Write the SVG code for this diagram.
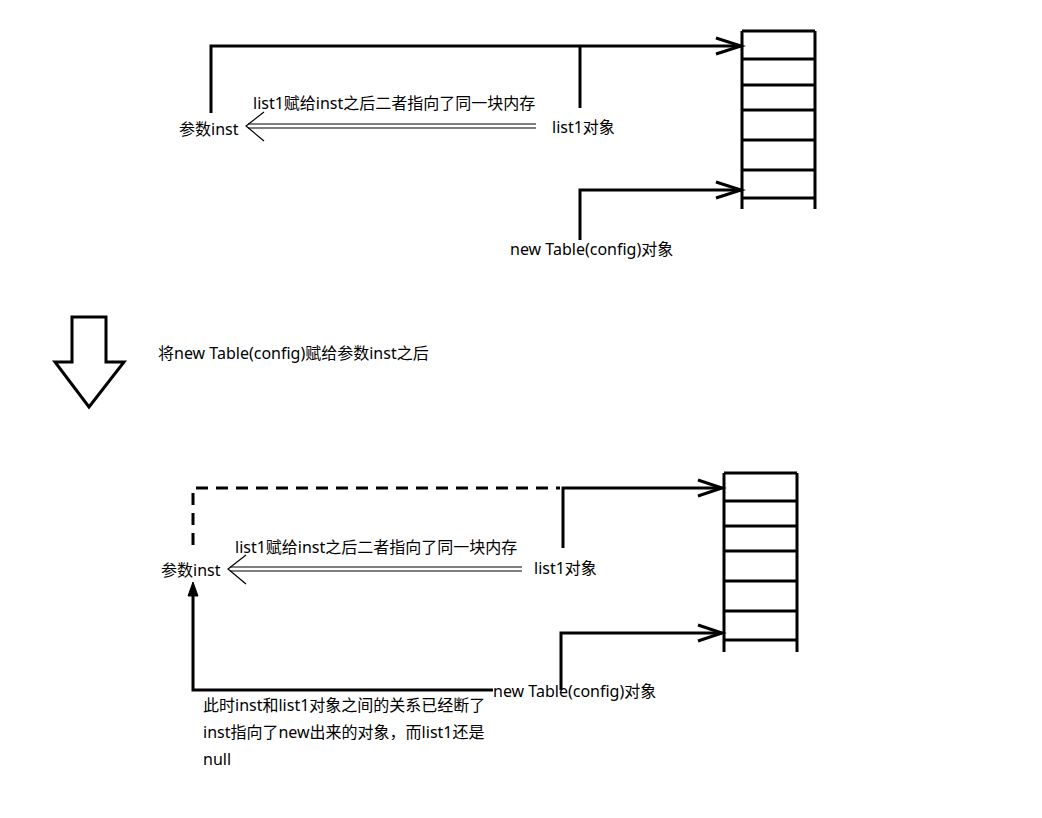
<svg xmlns="http://www.w3.org/2000/svg" width="1042" height="818" viewBox="0 0 1042 818">
<style>
.t{font-family:"Microsoft YaHei","Noto Sans","Noto Sans CJK SC",sans-serif;font-size:16px;fill:#000}
.c{fill:none;stroke:#000;stroke-width:3}
.d{fill:none;stroke:#000;stroke-width:3;stroke-dasharray:12 8}
.th{fill:none;stroke:#000;stroke-width:1.2}
.tb{fill:none;stroke:#000;stroke-width:3}
</style>
<rect width="1042" height="818" fill="#fff"/>
<g id="table1">
<path class="tb" d="M742,31V209M815,31V209M742,31H815M742,59H815M742,85H815M742,110H815M742,140H815M742,170H815M742,198H815"/>
</g>
<g id="table2">
<path class="tb" d="M724,473V652M797,473V652M724,473H797M724,501H797M724,526H797M724,551H797M724,581H797M724,611H797M724,640H797"/>
</g>
<g id="down-arrow">
<polygon points="72,317 106,317 106,362 124,362 89,407 55,362 72,362" fill="#fff" stroke="#000" stroke-width="3"/>
</g>
<g id="connectors">
<polyline class="c" points="211,113 211,46 741,46"/>
<line class="c" x1="580" y1="46" x2="580" y2="108"/>
<polyline class="c" points="716,38 741,46 716,54"/>
<polyline class="c" points="580,240 580,190 741,190"/>
<polyline class="c" points="716,182 741,190 716,198"/>
<line class="th" x1="248" y1="124" x2="536" y2="124"/>
<line class="th" x1="248" y1="128" x2="536" y2="128"/>
<polyline class="th" points="264,112 246,126 264,141"/>
<polyline class="d" points="193,545 193,488 560,488"/>
<polyline class="c" points="563,548 563,488 722,488"/>
<polyline class="c" points="698,480 722,488 698,496"/>
<polyline class="c" points="561,690 561,633 722,633"/>
<polyline class="c" points="698,625 722,633 698,641"/>
<line class="th" x1="230" y1="567" x2="522" y2="567"/>
<line class="th" x1="230" y1="571" x2="522" y2="571"/>
<polyline class="th" points="246,555 228,569 246,584"/>
<polyline class="c" points="493,690 193,690 193,594"/>
<polygon points="193,582 188,596 198,596" fill="#000" stroke="#000" stroke-width="1"/>
</g>
<g id="labels">
<text class="t" x="179" y="135">参数inst</text>
<text class="t" x="253" y="109">list1赋给inst之后二者指向了同一块内存</text>
<text class="t" x="552" y="133">list1对象</text>
<text class="t" x="510" y="255">new Table(config)对象</text>
<text class="t" x="158" y="359">将new Table(config)赋给参数inst之后</text>
<text class="t" x="161" y="576">参数inst</text>
<text class="t" x="235" y="553">list1赋给inst之后二者指向了同一块内存</text>
<text class="t" x="534" y="574">list1对象</text>
<text class="t" x="493" y="697">new Table(config)对象</text>
<text class="t" x="203" y="711">此时inst和list1对象之间的关系已经断了</text>
<text class="t" x="203" y="738">inst指向了new出来的对象，而list1还是</text>
<text class="t" x="203" y="765">null</text>
</g>
</svg>
